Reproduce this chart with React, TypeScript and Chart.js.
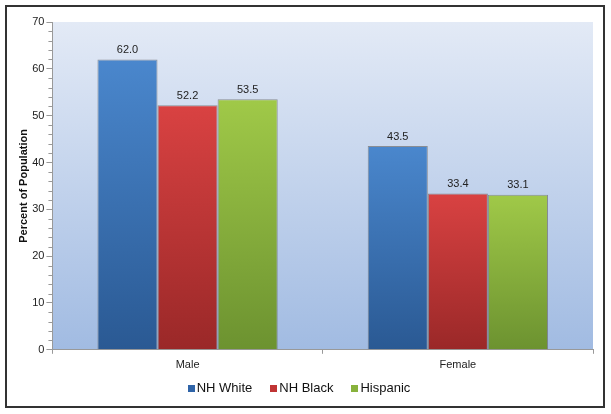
import React, { useEffect, useRef } from 'react';
import { Chart, registerables } from 'chart.js';

Chart.register(...registerables);

const categories = ['Male', 'Female'];
const seriesNames = ['NH White', 'NH Black', 'Hispanic'];
const nhWhite = [62.0, 43.5];
const nhBlack = [52.2, 33.4];
const hispanic = [53.5, 33.1];
const yTicks = [0, 10, 20, 30, 40, 50, 60, 70];

const barColors = [
    ['#4a87cd', '#2a5993'],
    ['#d94242', '#9a2828'],
    ['#a0c948', '#6c9230'],
];
const legendColors = ['#2f64a8', '#c03434', '#88b23c'];

const FONT = '"Liberation Sans", Arial, sans-serif';

const plotBackground = {
    id: 'plotBackground',
    beforeDraw(chart: any) {
        const { ctx, chartArea } = chart;
        if (!chartArea) return;
        const g = ctx.createLinearGradient(0, chartArea.top, 0, chartArea.bottom);
        g.addColorStop(0, '#e3eaf6');
        g.addColorStop(1, '#a1bbe2');
        ctx.save();
        ctx.fillStyle = g;
        ctx.fillRect(chartArea.left, chartArea.top, chartArea.right - chartArea.left, chartArea.bottom - chartArea.top);
        ctx.restore();
    },
};

const minorTicks = {
    id: 'minorTicks',
    afterDraw(chart: any) {
        const { ctx, chartArea, scales } = chart;
        const y = scales.y;
        ctx.save();
        ctx.strokeStyle = '#999';
        ctx.lineWidth = 1;
        for (let v = 0; v <= 70; v += 2) {
            if (v % 10 === 0) continue;
            const py = Math.round(y.getPixelForValue(v)) + 0.5;
            ctx.beginPath();
            ctx.moveTo(chartArea.left - 4, py);
            ctx.lineTo(chartArea.left, py);
            ctx.stroke();
        }
        ctx.restore();
    },
};

const valueLabels = {
    id: 'valueLabels',
    afterDatasetsDraw(chart: any) {
        const { ctx } = chart;
        ctx.save();
        ctx.font = '11px ' + FONT;
        ctx.fillStyle = '#222';
        ctx.textAlign = 'center';
        ctx.textBaseline = 'bottom';
        chart.data.datasets.forEach((ds: any, i: number) => {
            chart.getDatasetMeta(i).data.forEach((bar: any, j: number) => {
                ctx.fillText(ds.data[j].toFixed(1), bar.x, bar.y - 4);
            });
        });
        ctx.restore();
    },
};

// Excel-style legend: small square, tight gap to text, wide gap between items
const bottomLegend = {
    id: 'bottomLegend',
    afterDraw(chart: any) {
        const { ctx, width } = chart;
        const box = 7;
        const gap = 2;
        const itemGap = 18;
        ctx.save();
        ctx.font = '13px ' + FONT;
        ctx.textBaseline = 'middle';
        ctx.textAlign = 'left';
        const names = chart.data.datasets.map((d: any) => d.label);
        const widths = names.map((n: string) => ctx.measureText(n).width);
        const total = widths.reduce((a: number, w: number) => a + box + gap + w, 0) + itemGap * (names.length - 1);
        let x = width / 2 - 6 - total / 2;
        const y = 381;
        names.forEach((n: string, i: number) => {
            ctx.fillStyle = legendColors[i];
            ctx.fillRect(Math.round(x), Math.round(y - box / 2), box, box);
            ctx.fillStyle = '#111';
            ctx.fillText(n, x + box + gap, y + 0.5);
            x += box + gap + widths[i] + itemGap;
        });
        ctx.restore();
    },
};

const ChartComponent: React.FC = () => {
    const chartRef = useRef<HTMLCanvasElement>(null);
    const chartInstance = useRef<Chart | null>(null);

    useEffect(() => {
        if (!chartRef.current) return;
        if (chartInstance.current) chartInstance.current.destroy();

        const makeFill = (idx: number) => (c: any) => {
            const chart = c.chart;
            const yScale = chart.scales && chart.scales.y;
            if (!yScale || c.raw === undefined) return barColors[idx][0];
            const top = yScale.getPixelForValue(c.raw);
            const bottom = yScale.getPixelForValue(0);
            if (!Number.isFinite(top) || !Number.isFinite(bottom)) return barColors[idx][0];
            const g = chart.ctx.createLinearGradient(0, top, 0, bottom);
            g.addColorStop(0, barColors[idx][0]);
            g.addColorStop(1, barColors[idx][1]);
            return g;
        };

        const series = [nhWhite, nhBlack, hispanic];
        const font = { family: FONT, size: 11 };

        chartInstance.current = new Chart(chartRef.current, {
            type: 'bar',
            data: {
                labels: categories,
                datasets: series.map((d, i) => ({
                    label: seriesNames[i],
                    data: d,
                    backgroundColor: makeFill(i),
                    borderColor: 'rgba(110,110,110,0.7)',
                    borderWidth: 1,
                    categoryPercentage: 0.667,
                    barPercentage: 1.0,
                })),
            },
            options: {
                responsive: false,
                animation: false,
                layout: { padding: { left: 4, right: 10, top: 15, bottom: 29 } },
                plugins: {
                    tooltip: { enabled: false },
                    legend: { display: false },
                },
                scales: {
                    x: {
                        grid: { drawOnChartArea: false, drawTicks: true, tickLength: 4, color: '#999' },
                        border: { color: '#999' },
                        ticks: { color: '#222', font, padding: 5 },
                    },
                    y: {
                        min: 0,
                        max: 70,
                        afterBuildTicks: (s: any) => {
                            s.ticks = yTicks.map((v) => ({ value: v }));
                        },
                        grid: { drawOnChartArea: false, drawTicks: true, tickLength: 6, color: '#999' },
                        border: { color: '#999' },
                        ticks: { color: '#222', font, padding: 2 },
                        title: {
                            display: true,
                            text: 'Percent of Population',
                            color: '#111',
                            font: { family: FONT, size: 11, weight: 'bold' },
                            padding: { top: 6, bottom: 0 },
                        },
                    },
                },
            },
            plugins: [plotBackground, minorTicks, valueLabels, bottomLegend],
        } as any);

        return () => {
            if (chartInstance.current) {
                chartInstance.current.destroy();
                chartInstance.current = null;
            }
        };
    }, []);

    return <canvas ref={chartRef} width={596} height={399} />;
};

export default function App() {
    return (
        <div style={{ position: 'absolute', left: 0, top: 0, width: 611, height: 414, background: '#fff' }}>
            <div
                style={{
                    position: 'absolute',
                    left: 5,
                    top: 5,
                    width: 600,
                    height: 403,
                    border: '2px solid #333',
                    boxSizing: 'border-box',
                }}
            >
                <ChartComponent />
            </div>
        </div>
    );
}
